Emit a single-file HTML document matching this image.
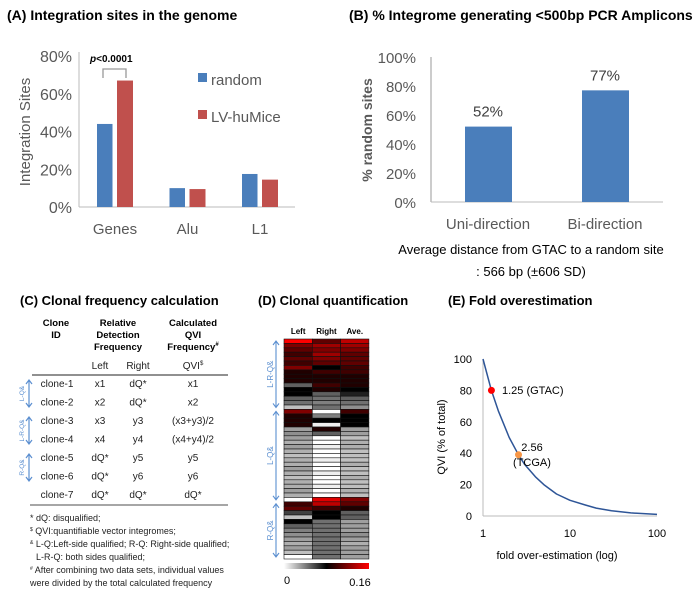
<!DOCTYPE html>
<html><head><meta charset="utf-8"><style>
body{margin:0;background:#fff;}
svg{display:block;font-family:"Liberation Sans",sans-serif;}
.t{font-weight:bold;font-size:13px;fill:#000;}
.t14{font-weight:bold;font-size:14px;fill:#000;}
</style></head><body>
<svg id="fig" width="700" height="606" viewBox="0 0 700 606">
<text class="t14" x="7" y="20">(A) Integration sites in the genome</text>
<g id="pa"></g>
<text class="t14" x="349" y="20">(B) % Integrome generating &lt;500bp PCR Amplicons</text>
<g id="pb"></g>
<text x="531" y="254" font-size="13" text-anchor="middle" fill="#000">Average distance from GTAC to a random site</text>
<text x="531" y="276" font-size="13" text-anchor="middle" fill="#000">: 566 bp (±606 SD)</text>
<text class="t" x="20" y="305">(C) Clonal frequency calculation</text>
<g font-size="9.5" fill="#000" text-anchor="middle" font-weight="bold">
<text x="56" y="326">Clone</text><text x="56" y="338">ID</text>
<text x="118" y="326">Relative</text><text x="118" y="338">Detection</text><text x="118" y="350">Frequency</text>
<text x="193" y="326">Calculated</text><text x="193" y="338">QVI</text><text x="193" y="350">Frequency<tspan font-size="6" dy="-4">#</tspan></text>
</g>
<g font-size="10" fill="#222" text-anchor="middle">
<text x="100" y="369">Left</text><text x="138" y="369">Right</text><text x="193" y="369">QVI<tspan font-size="6" dy="-4">$</tspan></text>
</g>
<line x1="32" y1="375" x2="228" y2="375" stroke="#222" stroke-width="1"/>
<line x1="30" y1="505" x2="228" y2="505" stroke="#888" stroke-width="1.5"/>
<g id="tbl" font-size="10" fill="#222" text-anchor="middle"></g>
<g id="carrows"></g>
<g font-size="9" fill="#222">
<text x="30" y="521">* dQ: disqualified;</text>
<text x="30" y="534"><tspan font-size="5" dy="-3">$</tspan><tspan dy="3"> QVI:quantifiable vector integromes;</tspan></text>
<text x="30" y="547"><tspan font-size="5" dy="-3">&amp;</tspan><tspan dy="3"> L-Q:Left-side qualified; R-Q: Right-side qualified;</tspan></text>
<text x="36" y="560">L-R-Q: both sides qualified;</text>
<text x="30" y="573"><tspan font-size="5" dy="-3">#</tspan><tspan dy="3"> After combining two data sets, individual values</tspan></text>
<text x="30" y="586">were divided by the total calculated frequency</text>
</g>
<text class="t" x="258" y="305">(D) Clonal quantification</text>
<g id="pd"></g>
<text class="t" x="448" y="305">(E) Fold overestimation</text>
<g id="pe"></g>
</svg>
<script>
const NS='http://www.w3.org/2000/svg';
function mk(p,t,a,txt){const e=document.createElementNS(NS,t);for(const k in a)e.setAttribute(k,a[k]);if(txt!==undefined)e.textContent=txt;p.appendChild(e);return e;}

const aCats=['Genes','Alu','L1'];
const aRandom=[44,10,17.5];
const aLV=[67,9.5,14.5];
const aTicks=[0,20,40,60,80];
const aSeries=['random','LV-huMice'];
(function(){
 const g=document.getElementById('pa');
 const y0=207,y80=56,x0=79,x1=295;
 const Y=v=>y0-(v/80)*(y0-y80);
 const X=i=>115+i*72.5;
 mk(g,'line',{x1:x0,y1:52,x2:x0,y2:y0,stroke:'#bbb'});
 mk(g,'line',{x1:x0,y1:y0,x2:x1,y2:y0,stroke:'#bbb'});
 aTicks.forEach(t=>{const e=mk(g,'text',{x:72,y:Y(t)+6,'text-anchor':'end','font-size':16,fill:'#595959'},t+'%');
  });
 const yt=mk(g,'text',{x:0,y:0,transform:'translate(30,132) rotate(-90)','text-anchor':'middle','font-size':15,fill:'#595959'},'Integration Sites');
 
 aCats.forEach((c,i)=>{
  const b1=mk(g,'rect',{x:X(i)-18,y:Y(aRandom[i]),width:15.5,height:y0-Y(aRandom[i]),fill:'#4a7ebb'});
  
  const b2=mk(g,'rect',{x:X(i)+2,y:Y(aLV[i]),width:16,height:y0-Y(aLV[i]),fill:'#c0504d'});
  
  const l=mk(g,'text',{x:X(i),y:234,'text-anchor':'middle','font-size':15,fill:'#595959'},c);
  
 });
 const br=mk(g,'path',{d:'M103,78 V69 H126 V78',stroke:'#999',fill:'none','stroke-width':1.3});
 
 const p=mk(g,'text',{x:90,y:62,'font-size':10,'font-weight':'bold',fill:'#000'});
 p.innerHTML='<tspan font-style="italic">p</tspan>&lt;0.0001';
 
 const cols=['#4a7ebb','#c0504d'];
 aSeries.forEach((s,i)=>{
  const r=mk(g,'rect',{x:198,y:73+i*37,width:9,height:9,fill:cols[i]});
  
  const t=mk(g,'text',{x:211,y:85+i*37,'font-size':15,fill:'#595959'},s);
  
 });
})();

const bCats=['Uni-direction','Bi-direction'];
const bValues=[52,77];
const bTicks=[0,20,40,60,80,100];
(function(){
 const g=document.getElementById('pb');
 const y0=202,y100=57,x0=431;
 const Y=v=>y0-(v/100)*(y0-y100);
 const X=i=>488+i*117;
 mk(g,'line',{x1:x0,y1:57,x2:x0,y2:y0,stroke:'#999'});
 mk(g,'line',{x1:x0,y1:y0,x2:663,y2:y0,stroke:'#bbb'});
 bTicks.forEach(t=>{const e=mk(g,'text',{x:416,y:Y(t)+6,'text-anchor':'end','font-size':15,fill:'#595959'},t+'%');
  });
 const yt=mk(g,'text',{x:0,y:0,transform:'translate(372,130) rotate(-90)','text-anchor':'middle','font-size':14,'font-weight':'bold',fill:'#595959'},'% random sites');
 
 bCats.forEach((c,i)=>{
  const b=mk(g,'rect',{x:X(i)-23,y:Y(bValues[i]),width:47,height:y0-Y(bValues[i]),fill:'#4a7ebb'});
  
  const v=mk(g,'text',{x:X(i),y:Y(bValues[i])-10,'text-anchor':'middle','font-size':15,fill:'#404040'},bValues[i]+'%');
  
  const l=mk(g,'text',{x:X(i),y:229,'text-anchor':'middle','font-size':15,fill:'#595959'},c);
  
 });
})();

const cRows=[['clone-1','x1','dQ*','x1'],['clone-2','x2','dQ*','x2'],['clone-3','x3','y3','(x3+y3)/2'],['clone-4','x4','y4','(x4+y4)/2'],['clone-5','dQ*','y5','y5'],['clone-6','dQ*','y6','y6'],['clone-7','dQ*','dQ*','dQ*']];
(function(){
 const g=document.getElementById('tbl');
 cRows.forEach((r,i)=>{
  const y=387+i*18.5;
  const xs=[57,100,138,193];
  r.forEach((c,j)=>{const t=mk(g,'text',{x:xs[j],y:y},c);
   });
 });
 const a=document.getElementById('carrows');
 const groups=[['L-Q&',380,407],['L-R-Q&',417,444],['R-Q&',454,481]];
 groups.forEach(gr=>{
  const l=mk(a,'path',{d:`M29,${gr[1]} V${gr[2]} M26,${gr[1]+4} L29,${gr[1]} L32,${gr[1]+4} M26,${gr[2]-4} L29,${gr[2]} L32,${gr[2]-4}`,stroke:'#5b8fd0',fill:'none','stroke-width':1.2});
  
  const m=(gr[1]+gr[2])/2;
  const t=mk(a,'text',{x:0,y:0,transform:`translate(24,${m}) rotate(-90)`,'text-anchor':'middle','font-size':6.5,fill:'#5b8fd0'},gr[0]);
  
 });
})();

const hLeft=[16,12,11,10,11,10,12,9,9,9,5,8,8,5,4.5,2, 12,9,9,9,3,3.5,3,2.5,3,2.5,2,2.5,2.5,3,2.5,2,2.5,2.5,3,2.5,0, 10,11,6,2,8,5,4,3.5,3,2.5,3,2,0];
const hRight=[11,13,12,13,12,11,8,10,9,9,10,9,5,4.5,4,4.5, 0,4,8,0.5,9,5,0,0,0.5,0,0,0.5,0,0,0.5,0,0,0.5,0,0,15, 14,10,8,8,4.5,4.5,4.5,4.5,4.5,4.5,4.5,4.5,4.5];
const hAve=[14,13,12,11,11,11,10,10,9,9,9,8,7,5,4.5,3.5, 10,8,8,8,3,3,2,2.5,2.5,2,2,2,2.5,2,2,2.5,2,2,2.5,2,12, 11,9,5,5,3,3,3,3.5,3,2.5,3,3,3];
const hCols=['Left','Right','Ave.'];
const hMax=16;
function cmap(v){
 const t=v/hMax;
 if(t<=0.5){const c=Math.round(255*(1-t*2));return `rgb(${c},${c},${c})`;}
 const r=Math.round(255*(t-0.5)*2);return `rgb(${r},0,0)`;
}
(function(){
 const g=document.getElementById('pd');
 const x0=284,cw=28.3,y0=339,h=220;
 const n=hLeft.length,rh=h/n;
 const data=[hLeft,hRight,hAve];
 hCols.forEach((c,j)=>{const t=mk(g,'text',{x:x0+cw*j+cw/2,y:334,'text-anchor':'middle','font-size':8,'font-weight':'bold',fill:'#000'},c);
  });
 for(let j=0;j<3;j++)for(let i=0;i<n;i++){
  const r=mk(g,'rect',{x:x0+cw*j,y:y0+i*rh,width:cw,height:rh,fill:cmap(data[j][i]),stroke:'#111','stroke-width':0.6});
  
 }
 const defs=mk(g,'defs',{});
 const lg=mk(defs,'linearGradient',{id:'cb'});
 mk(lg,'stop',{offset:'0','stop-color':'#fff'});mk(lg,'stop',{offset:'0.5','stop-color':'#000'});mk(lg,'stop',{offset:'1','stop-color':'#f00'});
 const cb=mk(g,'rect',{x:x0,y:563,width:85,height:6,fill:'url(#cb)'});
 
 const l0=mk(g,'text',{x:287,y:584,'text-anchor':'middle','font-size':11,fill:'#000'},'0');
 
 const l1=mk(g,'text',{x:360,y:586,'text-anchor':'middle','font-size':11,fill:'#000'},'0.16');
 
 const groups=[['L-R-Q&',0,16],['L-Q&',16,37],['R-Q&',37,50]];
 groups.forEach(gr=>{
  const a=y0+gr[1]*rh+2,b=y0+gr[2]*rh-2;
  const p=mk(g,'path',{d:`M276,${a} V${b} M273,${a+4} L276,${a} L279,${a+4} M273,${b-4} L276,${b} L279,${b-4}`,stroke:'#5b8fd0',fill:'none','stroke-width':1.1});
  
  const t=mk(g,'text',{x:0,y:0,transform:`translate(273,${(a+b)/2}) rotate(-90)`,'text-anchor':'middle','font-size':8,fill:'#5b8fd0'},gr[0]);
  
 });
})();

const eFold=[1,1.25,1.5,2,2.56,3,4,5,7,10,15,20,30,50,100];
const eQVI=[100,80,67,50,39,33,25,20,14,10,7,5,3.3,2,1];
const eXTicks=[1,10,100];
const eYTicks=[0,20,40,60,80,100];
const ePoints=[[1.25,80,'1.25 (GTAC)','#ff0000'],[2.56,39,'2.56','#f79646']];
(function(){
 const g=document.getElementById('pe');
 const X=v=>483+Math.log10(v)*87;
 const Y=v=>516-v*1.57;
 mk(g,'line',{x1:483,y1:Y(100),x2:483,y2:516,stroke:'#bbb'});
 mk(g,'line',{x1:483,y1:516,x2:657,y2:516,stroke:'#bbb'});
 eYTicks.forEach(t=>{const e=mk(g,'text',{x:472,y:Y(t)+4,'text-anchor':'end','font-size':11,fill:'#000'},t);
  });
 eXTicks.forEach(t=>{const e=mk(g,'text',{x:X(t),y:537,'text-anchor':'middle','font-size':11,fill:'#000'},t);
  });
 const xt=mk(g,'text',{x:557,y:559,'text-anchor':'middle','font-size':11,fill:'#000'},'fold over-estimation (log)');
 
 const yt=mk(g,'text',{x:0,y:0,transform:'translate(445,437) rotate(-90)','text-anchor':'middle','font-size':11,fill:'#000'},'QVI (% of total)');
 
 const d=eFold.map((f,i)=>(i?'L':'M')+X(f).toFixed(1)+','+Y(eQVI[i]).toFixed(1)).join(' ');
 const ln=mk(g,'path',{d:d,stroke:'#2e5597',fill:'none','stroke-width':1.5,'stroke-linejoin':'round'});
 
 ePoints.forEach((p,i)=>{
  const c=mk(g,'circle',{cx:X(p[0]),cy:Y(p[1]),r:3.5,fill:p[3]});
  
 });
 const t1=mk(g,'text',{x:502,y:394,'font-size':11,fill:'#000'},'1.25 (GTAC)');
 
 const t2=mk(g,'text',{x:532,y:451,'text-anchor':'middle','font-size':11,fill:'#000'},'2.56');
 
 const t3=mk(g,'text',{x:532,y:466,'text-anchor':'middle','font-size':11,fill:'#000'},'(TCGA)');
 
})();
</script>
</body></html>
